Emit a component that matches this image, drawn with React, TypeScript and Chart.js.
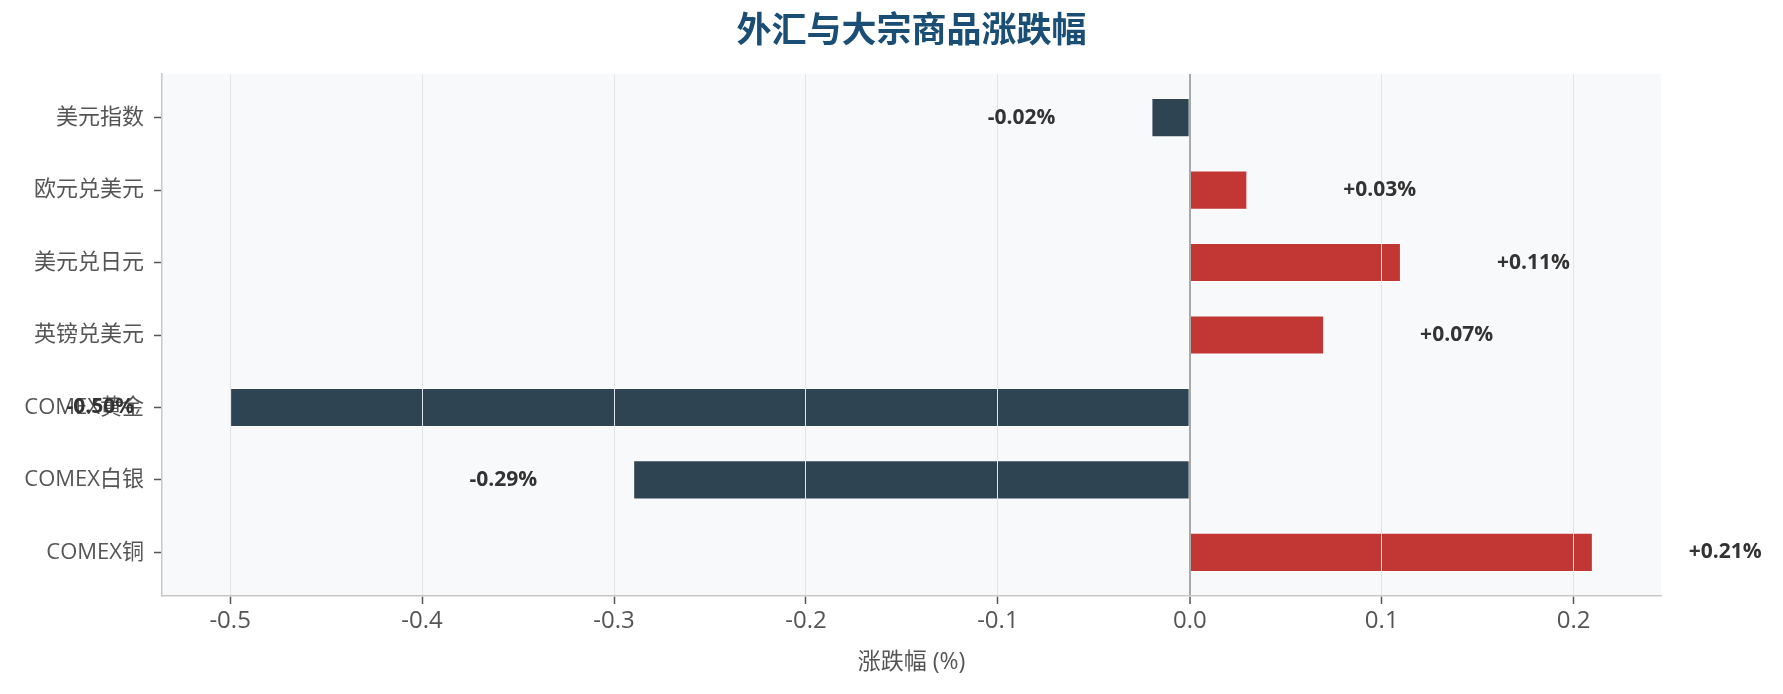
import React, { useEffect, useRef } from "react";
import { Chart, registerables } from "chart.js";
import type { Plugin } from "chart.js";

Chart.register(...registerables);

const CATEGORIES = ["美元指数", "欧元兑美元", "美元兑日元", "英镑兑美元", "COMEX黄金", "COMEX白银", "COMEX铜"];
const CHANGES = [-0.02, 0.03, 0.11, 0.07, -0.5, -0.29, 0.21];
const X_TICKS = [-0.5, -0.4, -0.3, -0.2, -0.1, 0.0, 0.1, 0.2];

const UP_COLOR = "#c23634";
const DOWN_COLOR = "#2e4452";
const FONT = '"Open Sans", "Noto Sans CJK SC", sans-serif';
const LABEL_OFFSET = 0.05;
const BAR_HEIGHT = 0.55;

// matplotlib style 5% margins around the data
const xLo = Math.min(0, ...CHANGES);
const xHi = Math.max(0, ...CHANGES);
const xPad = (xHi - xLo) * 0.05;
const yLo = -BAR_HEIGHT / 2;
const yHi = CATEGORIES.length - 1 + BAR_HEIGHT / 2;
const yPad = (yHi - yLo) * 0.05;

const plotBackground: Plugin<"bar"> = {
  id: "plotBackground",
  beforeDraw(chart) {
    const { ctx, chartArea: a } = chart;
    ctx.save();
    ctx.fillStyle = "#f8f9fb";
    ctx.fillRect(a.left, a.top, a.right - a.left, a.bottom - a.top);
    ctx.restore();
  },
};

const valueLabels: Plugin<"bar"> = {
  id: "valueLabels",
  afterDraw(chart) {
    const { ctx } = chart;
    const xs = chart.scales.x;
    const ys = chart.scales.y;
    ctx.save();
    ctx.font = `bold 21px ${FONT}`;
    ctx.fillStyle = "#333333";
    ctx.textBaseline = "middle";
    CHANGES.forEach((v, i) => {
      const up = v >= 0;
      ctx.textAlign = up ? "left" : "right";
      const x = xs.getPixelForValue(v + (up ? LABEL_OFFSET : -LABEL_OFFSET));
      const y = ys.getPixelForValue(i);
      ctx.fillText(`${up ? "+" : ""}${v.toFixed(2)}%`, x, y);
    });
    ctx.restore();
  },
};

const App: React.FC = () => {
  const canvasRef = useRef<HTMLCanvasElement>(null);

  useEffect(() => {
    if (!canvasRef.current) return;

    const chart = new Chart(canvasRef.current, {
      type: "bar",
      data: {
        datasets: [
          {
            data: CHANGES.map((v, i) => ({ x: v, y: i })),
            backgroundColor: CHANGES.map((v) => (v >= 0 ? UP_COLOR : DOWN_COLOR)),
            borderColor: "rgba(255,255,255,0.6)",
            borderWidth: 1,
            categoryPercentage: 1,
            barPercentage: 0.54,
          },
        ],
      },
      options: {
        indexAxis: "y",
        responsive: true,
        maintainAspectRatio: false,
        animation: false,
        layout: { padding: { left: 0, right: 122, top: 0, bottom: 0 } },
        plugins: {
          legend: { display: false },
          tooltip: { enabled: false },
          title: {
            display: true,
            text: "外汇与大宗商品涨跌幅",
            fullSize: false,
            color: "#1a4e74",
            font: { family: FONT, size: 35, weight: "bold" },
            padding: { top: 11, bottom: 21 },
          },
        },
        scales: {
          x: {
            type: "linear",
            min: xLo - xPad,
            max: xHi + xPad,
            afterBuildTicks: (axis) => {
              axis.ticks = X_TICKS.map((value) => ({ value }));
            },
            afterFit: (axis) => {
              axis.height = 98;
            },
            ticks: {
              callback: (v) => Number(v).toFixed(1),
              font: { family: FONT, size: 24 },
              color: "#555555",
              padding: 3,
              maxRotation: 0,
              autoSkip: false,
            },
            // grid goes over the bars, like the original
            grid: {
              z: 1,
              color: (ctx) => (ctx.tick && ctx.tick.value === 0 ? "#a9a9a9" : "#e4e4e6"),
              lineWidth: (ctx) => (ctx.tick && ctx.tick.value === 0 ? 2 : 1),
              tickColor: "#555555",
              tickLength: 8,
              tickWidth: 1.5,
            },
            border: { display: true, color: "#c8c8c8", width: 1.5, z: 2 },
            title: {
              display: true,
              text: "涨跌幅 (%)",
              color: "#555555",
              font: { family: FONT, size: 23 },
              padding: { top: 0, bottom: 18 },
            },
          },
          y: {
            type: "linear",
            reverse: true,
            offset: false,
            min: yLo - yPad,
            max: yHi + yPad,
            afterBuildTicks: (axis) => {
              axis.ticks = CATEGORIES.map((_, i) => ({ value: i }));
            },
            afterFit: (axis) => {
              axis.width = 162;
            },
            ticks: {
              callback: (v) => CATEGORIES[Number(v)] ?? "",
              font: { family: FONT, size: 22 },
              color: "#555555",
              padding: 10,
              autoSkip: false,
            },
            grid: {
              offset: false,
              drawOnChartArea: false,
              tickColor: "#555555",
              tickLength: 8,
              tickWidth: 1.5,
            },
            border: { display: true, color: "#c8c8c8", width: 1.5 },
          },
        },
      },
      plugins: [plotBackground, valueLabels],
    });

    return () => {
      chart.destroy();
    };
  }, []);

  return (
    <div style={{ position: "fixed", left: 0, top: 0, width: 1783, height: 694, background: "#ffffff" }}>
      <canvas ref={canvasRef}></canvas>
    </div>
  );
};

export default App;
